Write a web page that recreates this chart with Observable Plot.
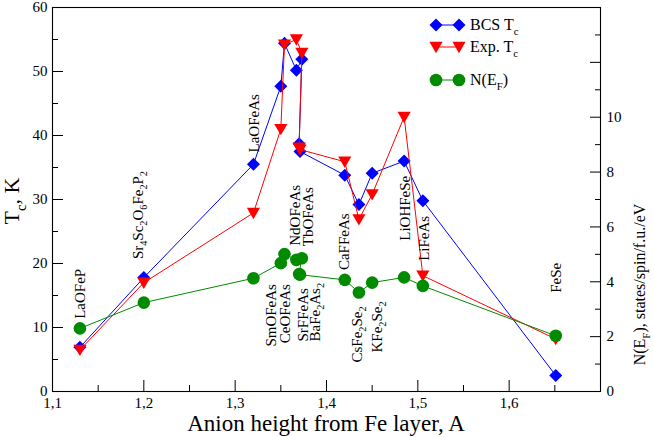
<!DOCTYPE html>
<html>
<head>
<meta charset="utf-8">
<script src="https://cdn.jsdelivr.net/npm/d3@7"></script>
<script src="https://cdn.jsdelivr.net/npm/@observablehq/plot@0.6"></script>
<style>
  body { margin: 0; background: #fff; }
  #chart { position: relative; width: 654px; height: 437px; }
  svg, svg text { font-family: "Liberation Serif", "DejaVu Serif", serif; }
</style>
</head>
<body>
<div id="chart"></div>
<script>
// ---------- data ----------
const materials = ["LaOFeP","Sr4Sc2O6Fe2P2","LaOFeAs","SmOFeAs","CeOFeAs","NdOFeAs","TbOFeAs","SrFFeAs","BaFe2As2","CaFFeAs","CsFe2Se2","KFe2Se2","LiOHFeSe","LiFeAs","FeSe"];
const anionHeight = [1.13, 1.20, 1.32, 1.35, 1.354, 1.367, 1.373, 1.370, 1.371, 1.42, 1.4355, 1.45, 1.485, 1.5055, 1.651];
const bcsTc = [6.9, 17.8, 35.5, 47.7, 54.4, 50.2, 51.9, 38.7, 37.5, 33.8, 29.2, 34.1, 36.0, 29.8, 2.5];
const expTc = [6.5, 17.0, 27.9, 41.0, 54.2, 55.0, 52.9, 38.1, 37.8, 35.9, 26.9, 30.8, 42.9, 18.1, 8.2];
const dosEF = [2.30, 3.24, 4.13, 4.68, 5.01, 4.80, 4.86, 4.28, 4.26, 4.07, 3.61, 3.97, 4.16, 3.85, 2.03];

// annotation labels ("_x" marks a subscript character)
const labelText = ["LaOFeP","Sr_4Sc_2O_6Fe_2P_2","LaOFeAs","SmOFeAs","CeOFeAs","NdOFeAs","TbOFeAs","SrFFeAs","BaFe_2As_2","CaFFeAs","CsFe_2Se_2","KFe_2Se_2","LiOHFeSe","LiFeAs","FeSe"];
const labelX = [1.1304, 1.1935, 1.3206, 1.3394, 1.3544, 1.3662, 1.3804, 1.3741, 1.3875, 1.4196, 1.4332, 1.4550, 1.4863, 1.5073, 1.6510];
const labelY = [11.36, 20.69, 37.34, 16.78, 16.78, 22.77, 22.69, 7.81, 7.81, 18.97, 4.53, 6.09, 23.55, 20.42, 15.42];
const labelAnchor = ["start","start","start","end","end","start","start","start","start","start","start","start","start","start","start"];

// axes
const xTicks = [1.1, 1.2, 1.3, 1.4, 1.5, 1.6, 1.7];
const xTickLabels = [1.1, 1.2, 1.3, 1.4, 1.5, 1.6];
const xMinor = [1.15, 1.25, 1.35, 1.45, 1.55, 1.65];
const yTicks = [0, 10, 20, 30, 40, 50, 60];
const yMinor = [5, 15, 25, 35, 45, 55];
const nTicks = [0, 2, 4, 6, 8, 10, 12, 14];
const nMinor = [1, 3, 5, 7, 9, 11, 13];
const nTickLabels = [0, 2, 4, 6, 8, 10];
const TC_MAX = 60, N_MAX = 14;

const legendItems = ["BCS T_c", "Exp. T_c", "N(E_F)"];
const xTitle = "Anion height from Fe layer, A";
const yTitle = "T_c, K";
const y2Title = "N(E_F), states/spin/f.u./eV";

// ---------- styles ----------
const BLUE = "#0000ff", RED = "#ff0000", GREEN = "#008b00";
const FONT = "'Liberation Serif', 'DejaVu Serif', serif";

const toY = n => n * TC_MAX / N_MAX;
const rows = materials.map((m, i) => ({m, h: anionHeight[i], bcs: bcsTc[i], exp: expTc[i], dos: toY(dosEF[i])}));
const idx = labelText.map((_, i) => i);

const diamondSym = {draw(ctx) { const r = 6.5; ctx.moveTo(0, -r); ctx.lineTo(r, 0); ctx.lineTo(0, r); ctx.lineTo(-r, 0); ctx.closePath(); }};
const triSym = {draw(ctx) { const w = 6.6; ctx.moveTo(-w, -5.2); ctx.lineTo(w, -5.2); ctx.lineTo(0, 6.2); ctx.closePath(); }};
const circleSym = {draw(ctx) { const r = 6.3; ctx.moveTo(r, 0); ctx.arc(0, 0, r, 0, 2 * Math.PI); ctx.closePath(); }};

const svg = Plot.plot({
  width: 654, height: 437,
  marginLeft: 52, marginRight: 54, marginTop: 7, marginBottom: 46,
  x: {domain: [1.1, 1.7], axis: null, label: null},
  y: {domain: [0, TC_MAX], axis: null, label: null},
  style: {fontFamily: FONT, fontSize: "15px", color: "black", background: "white", overflow: "visible"},
  marks: [
    Plot.axisX(xTicks, {anchor: "bottom", tickSize: -11, fill: "none", label: null}),
    Plot.axisX(xMinor, {anchor: "bottom", tickSize: -6, fill: "none", label: null}),
    Plot.axisX(xTickLabels, {anchor: "bottom", tickSize: 0, tickPadding: 6, fontSize: 15, fill: "black", label: null,
      tickFormat: d => d.toFixed(1).replace(".", ",")}),
    Plot.axisY(yTicks, {anchor: "left", tickSize: -11, fill: "none", label: null}),
    Plot.axisY(yMinor, {anchor: "left", tickSize: -6, fill: "none", label: null}),
    Plot.axisY(yTicks, {anchor: "left", tickSize: 0, tickPadding: 5, fontSize: 15, fill: "black", label: null, tickFormat: d => String(d)}),
    Plot.axisY(nTicks.map(toY), {anchor: "right", tickSize: -11, fill: "none", label: null}),
    Plot.axisY(nMinor.map(toY), {anchor: "right", tickSize: -6, fill: "none", label: null}),
    Plot.axisY(nTickLabels.map(toY), {anchor: "right", tickSize: 0, tickPadding: 6, fontSize: 15, fill: "black", label: null,
      tickFormat: d => String(Math.round(d * N_MAX / TC_MAX))}),
    Plot.frame({stroke: "black", strokeWidth: 1.1}),
    Plot.line(rows, {x: "h", y: "bcs", stroke: BLUE, strokeWidth: 1}),
    Plot.dot(rows, {x: "h", y: "bcs", symbol: diamondSym, fill: BLUE, stroke: "none"}),
    Plot.line(rows, {x: "h", y: "exp", stroke: RED, strokeWidth: 1}),
    Plot.dot(rows, {x: "h", y: "exp", symbol: triSym, fill: RED, stroke: "none"}),
    Plot.line(rows, {x: "h", y: "dos", stroke: GREEN, strokeWidth: 1}),
    Plot.dot(rows, {x: "h", y: "dos", symbol: circleSym, fill: GREEN, stroke: "none"}),
    Plot.text(idx, {filter: i => labelAnchor[i] === "start", x: i => labelX[i], y: i => labelY[i], text: i => labelText[i],
      rotate: -90, textAnchor: "start", fontSize: 15, fill: "black"}),
    Plot.text(idx, {filter: i => labelAnchor[i] === "end", x: i => labelX[i], y: i => labelY[i], text: i => labelText[i],
      rotate: -90, textAnchor: "end", fontSize: 15, fill: "black"})
  ]
});

document.getElementById("chart").appendChild(svg);
const s = d3.select(svg);

// titles
s.append("text").attr("x", 326).attr("y", 431).attr("text-anchor", "middle")
  .attr("font-size", 23).attr("font-family", FONT).attr("fill", "black").text(xTitle);
s.append("text").attr("transform", "translate(19,201) rotate(-90)").attr("text-anchor", "middle")
  .attr("font-size", 22).attr("font-family", FONT).attr("fill", "black").text(yTitle);
s.append("text").attr("transform", "translate(645,284.5) rotate(-90)").attr("text-anchor", "middle")
  .attr("font-size", 16).attr("font-family", FONT).attr("fill", "black").text(y2Title);

// legend
const legendColors = [BLUE, RED, GREEN];
const legendSyms = [diamondSym, triSym, circleSym];
const legendYs = [25, 47, 80];
legendItems.forEach((t, k) => {
  const g = s.append("g").attr("transform", `translate(0,${legendYs[k]})`);
  g.append("line").attr("x1", 436).attr("x2", 459).attr("y1", 0).attr("y2", 0).attr("stroke", legendColors[k]).attr("stroke-width", 1);
  [436, 459].forEach(x => {
    const p = d3.path(); legendSyms[k].draw(p);
    g.append("path").attr("transform", `translate(${x},0)`).attr("d", p.toString()).attr("fill", legendColors[k]);
  });
  g.append("text").attr("x", 470).attr("y", 0).attr("dy", "0.32em").attr("font-size", 16).attr("text-anchor", "start")
    .attr("font-family", FONT).attr("fill", "black").text(t);
});

// subscripts: convert "_x" into lowered, smaller tspans
svg.querySelectorAll("text").forEach(el => {
  const str = el.textContent;
  if (!str.includes("_")) return;
  const parts = str.split(/_(.)/);
  el.textContent = "";
  const subScale = 0.68, shiftEm = 0.3;
  let lowered = false;
  parts.forEach((p, k) => {
    if (p === "") return;
    const ts = document.createElementNS("http://www.w3.org/2000/svg", "tspan");
    ts.textContent = p;
    if (k % 2 === 1) {
      ts.setAttribute("font-size", subScale + "em");
      ts.setAttribute("dy", (lowered ? 0 : shiftEm / subScale) + "em");
      lowered = true;
    } else if (lowered) {
      ts.setAttribute("dy", (-shiftEm) + "em");
      lowered = false;
    }
    el.appendChild(ts);
  });
});
</script>
</body>
</html>
